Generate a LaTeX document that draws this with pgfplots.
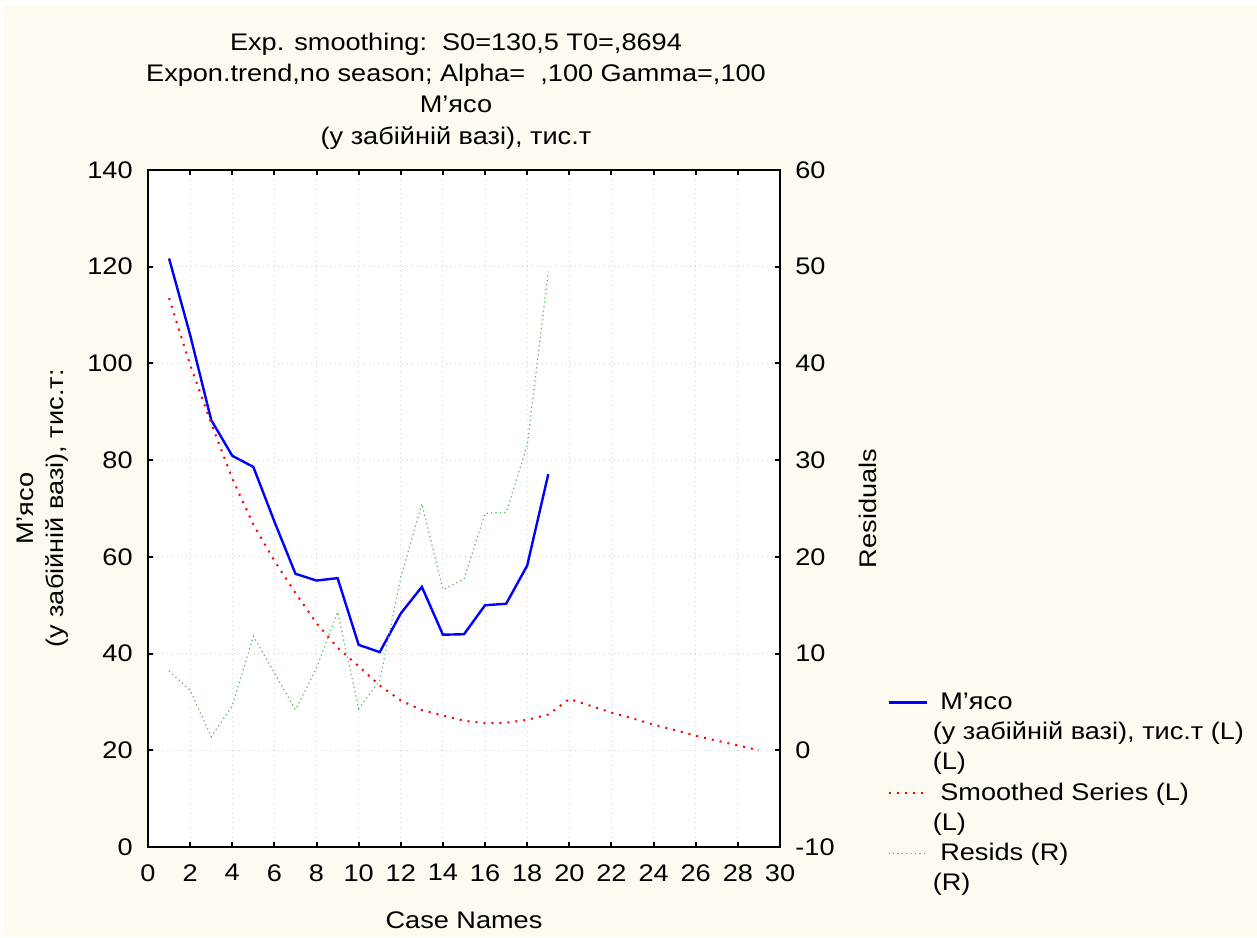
\documentclass[border=0pt]{standalone}
\usepackage{fontspec}
\setmainfont{Liberation Sans}[FakeStretch=1.13]
\usepackage{pgfplots}
\pgfplotsset{compat=1.18}
\definecolor{bgc}{RGB}{254,250,240}
\definecolor{gridc}{RGB}{210,210,210}
\definecolor{blueS}{RGB}{0,0,255}
\definecolor{redS}{RGB}{255,0,0}
\definecolor{greenS}{RGB}{90,180,90}
\newcommand\fs{\fontsize{12}{15.65}\selectfont}
\begin{document}
\begin{tikzpicture}
\fill[white] (0,0) rectangle (628.5pt,468.5pt);
\fill[bgc] (2pt,0) rectangle (628.5pt,465.5pt);
\begin{axis}[
  at={(74pt,45pt)}, anchor=south west, scale only axis,
  width=316pt, height=338.5pt,
  xmin=0, xmax=30, ymin=0, ymax=140,
  xtick distance=2, ytick distance=20,
  ytick pos=left,
  axis background/.style={fill=white},
  grid=major, major grid style={gridc, dotted, line width=0.5pt},
  axis line style={line width=1pt},
  tick style={black, line width=1pt},
  major tick length=2.5pt, tick align=inside,
  ticklabel style={font=\fs, inner sep=0pt},
  /pgf/number format/assume math mode=true,
  yticklabel style={xshift=-7.5pt},
  xticklabel style={yshift=-8.5pt},
  title={Exp. smoothing:\ \ S0=130,5 T0=,8694\\Expon.trend,no season; Alpha=\ \ ,100 Gamma=,100\\M’ясо\\(у забійній вазі), тис.т},
  title style={at={(0.5,1)}, anchor=south, inner sep=0pt, yshift=4.3pt, xshift=-4pt, align=center, font=\fs},
  xlabel={Case Names},
  xlabel style={at={(axis description cs:0.5,-0.108)}, anchor=center, font=\fs},
  ylabel={M’ясо\\(у забійній вазі), тис.т:},
  ylabel style={at={(axis description cs:-0.166,0.5)}, anchor=center, align=center, font=\fontsize{12}{15}\selectfont},
  legend style={at={(1.1693,0.2363)}, anchor=north west, draw=none, fill=none,
    inner sep=0pt, row sep=0pt, column sep=2.5pt,
    nodes={inner sep=0pt, text height=11pt, text depth=4.1pt, font=\fs}},
  legend cell align=left,
  legend image code/.code={\draw[#1] (0pt,0pt) -- (19pt,0pt);},
]
\addplot[blueS, line width=1.2pt] coordinates {
(1,121.7) (2,105.9) (3,88.3) (4,80.9) (5,78.6) (6,67.3) (7,56.5) (8,55.1) (9,55.6) (10,41.8)
(11,40.3) (12,48.3) (13,53.8) (14,43.9) (15,44.0) (16,50.0) (17,50.3) (18,58.2) (19,77.1)};
\addlegendentry{\ M’ясо}
\addlegendimage{empty legend}
\addlegendentry{(у забійній вазі), тис.т (L)}
\addlegendimage{empty legend}
\addlegendentry{(L)}
\addplot[redS, line width=1pt, dash pattern=on 1pt off 3pt] coordinates {
(1,113.5) (2,99.7) (3,87.6) (4,76.2) (5,66.7) (6,59.2) (7,52.5) (8,46.3) (9,41.2) (10,37.4)
(11,33.4) (12,30.3) (13,28.3) (14,27.2) (15,26.1) (16,25.6) (17,25.7) (18,26.3) (19,27.4) (20,30.6)
(21,29.2) (22,27.8) (23,26.6) (24,25.3) (25,24.2) (26,23.0) (27,22.0) (28,21.0) (29,20.0)};
\addlegendentry{\ Smoothed Series (L)}
\addlegendimage{empty legend}
\addlegendentry{(L)}
\addlegendimage{greenS, line width=0.6pt, dash pattern=on 0.6pt off 1.6pt}
\addlegendentry{\ Resids (R)}
\addlegendimage{empty legend}
\addlegendentry{(R)}
\end{axis}
\begin{axis}[
  at={(74pt,45pt)}, anchor=south west, scale only axis,
  width=316pt, height=338.5pt,
  xmin=0, xmax=30, ymin=-10, ymax=60,
  ytick distance=10,
  axis y line*=right, axis x line=none,
  axis line style={line width=1pt, -},
  tick style={black, line width=1pt},
  major tick length=2.5pt, tick align=inside,
  ticklabel style={font=\fs, inner sep=0pt},
  /pgf/number format/assume math mode=true,
  yticklabel style={xshift=7.5pt},
  ylabel={Residuals},
  ylabel style={at={(axis description cs:1.139,0.5)}, anchor=center, font=\fs},
]
\addplot[greenS, line width=0.6pt, dash pattern=on 0.6pt off 1.6pt] coordinates {
(1,8.2) (2,6.2) (3,1.4) (4,4.6) (5,11.8) (6,8.0) (7,4.2) (8,8.5) (9,14.3) (10,4.3)
(11,7.2) (12,17.9) (13,25.5) (14,16.6) (15,17.7) (16,24.5) (17,24.6) (18,31.5) (19,49.5)};
\end{axis}
\pgfresetboundingbox
\path[use as bounding box] (0,0) rectangle (628.5pt,468.5pt);
\end{tikzpicture}
\end{document}
